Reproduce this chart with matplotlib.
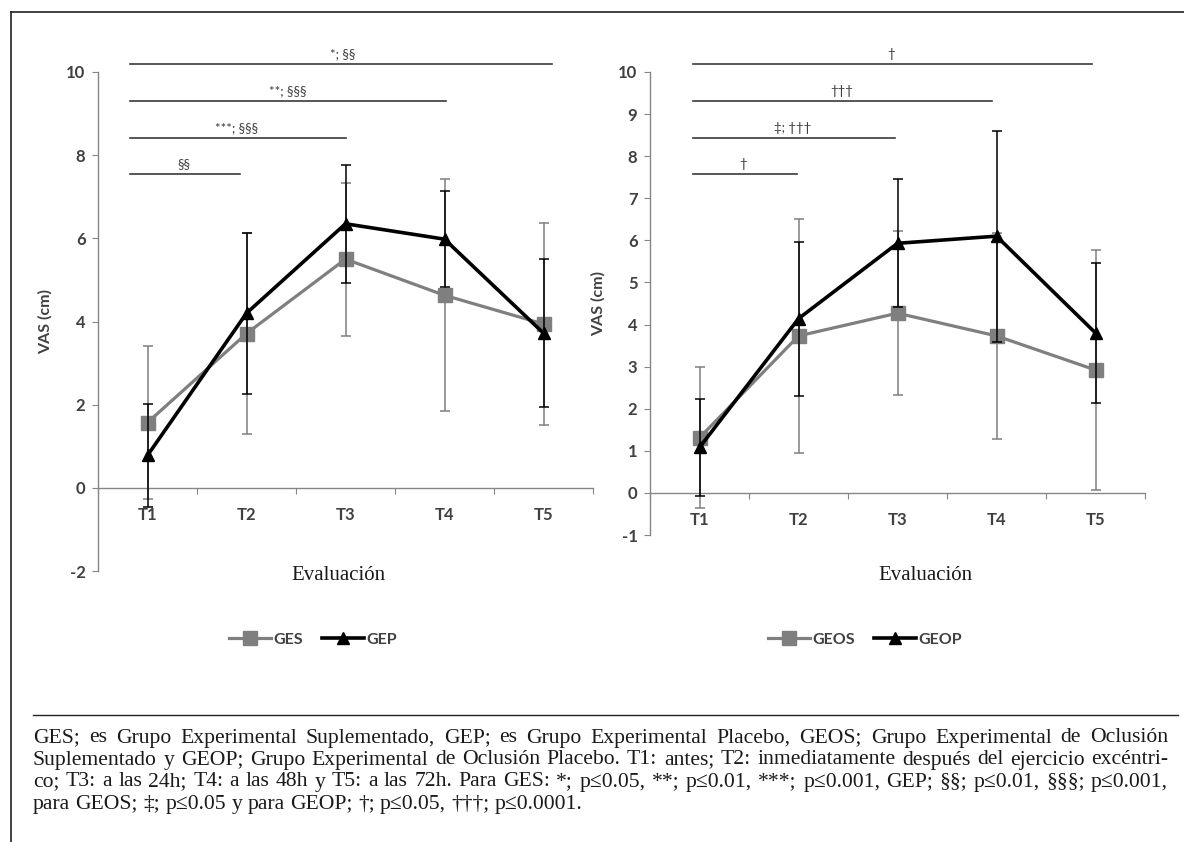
import numpy as np
import matplotlib.pyplot as plt
from matplotlib.lines import Line2D

# data
cats = ['T1', 'T2', 'T3', 'T4', 'T5']
ges = [1.57, 3.71, 5.50, 4.63, 3.94]
ges_err = [1.84, 2.41, 1.84, 2.79, 2.44]
gep = [0.78, 4.20, 6.35, 5.98, 3.72]
gep_err = [1.23, 1.94, 1.42, 1.15, 1.78]
geos = [1.31, 3.73, 4.27, 3.73, 2.92]
geos_err = [1.68, 2.78, 1.95, 2.45, 2.86]
geop = [1.08, 4.14, 5.93, 6.10, 3.80]
geop_err = [1.16, 1.83, 1.52, 2.51, 1.66]

# significance bars: level, end category position, label, label position
left_sig_y = [10.19, 9.30, 8.41, 7.55]
left_sig_end = [5.09, 4.02, 3.00, 1.93]
left_sig_lab = ['*; §§', '**; §§§', '***; §§§', '§§']
left_sig_lx = [2.97, 2.42, 1.90, 1.37]
right_sig_y = [10.19, 9.31, 8.43, 7.58]
right_sig_end = [4.96, 3.95, 2.97, 1.98]
right_sig_lab = ['†', '†††', '‡; †††', '†']
right_sig_lx = [2.94, 2.44, 1.94, 1.44]

caption = [
    "GES; es Grupo Experimental Suplementado, GEP; es Grupo Experimental Placebo, GEOS; Grupo Experimental de Oclusión",
    "Suplementado y GEOP; Grupo Experimental de Oclusión Placebo. T1: antes; T2: inmediatamente después del ejercicio excéntri-",
    "co; T3: a las 24h; T4: a las 48h y T5: a las 72h. Para GES: *; p≤0.05, **; p≤0.01, ***; p≤0.001, GEP; §§; p≤0.01, §§§; p≤0.001,",
    "para GEOS; ‡; p≤0.05 y para GEOP; †; p≤0.05, †††; p≤0.0001.",
]

W, H = 1184, 842
GRAY = '#7f7f7f'
AXC = '#868686'
TXT = '#404040'
SANS = ['Lato', 'DejaVu Sans']
SERIF = ['Liberation Serif', 'DejaVu Serif']

fig = plt.figure(figsize=(W / 100, H / 100), dpi=100)


def fx(px):
    return px / W


def fy(py):
    return 1 - py / H


def panel(rect, ylim, yticks, s1, e1, s2, e2, names, sig, leg_x, xlab_x, ylab_x):
    ax = fig.add_axes(rect)
    x = np.arange(1, 6)
    ax.errorbar(x, s1, yerr=e1, color=GRAY, lw=2.3, marker='s', ms=10,
                capsize=3.5, elinewidth=1.1, capthick=1.1, zorder=3)
    ax.errorbar(x, s2, yerr=e2, color='black', lw=2.6, marker='^', ms=9,
                capsize=3.5, elinewidth=1.1, capthick=1.1, zorder=4)
    ax.set_xlim(0.5, 5.5)
    ax.set_ylim(*ylim)
    for s in ['top', 'right']:
        ax.spines[s].set_visible(False)
    ax.spines['bottom'].set_position(('data', 0))
    for s in ['left', 'bottom']:
        ax.spines[s].set_color(AXC)
        ax.spines[s].set_linewidth(1.0)
    ax.set_yticks(yticks)
    ax.set_yticklabels([str(v) for v in yticks], family=SANS, weight='bold',
                       fontsize=12, color=TXT)
    ax.tick_params(axis='y', length=4, color=AXC, pad=5)
    ax.set_xticks(np.arange(0.5, 6.0, 1.0))
    ax.set_xticklabels([])
    ax.tick_params(axis='x', which='major', length=4, color=AXC)
    ax.set_xticks(x, minor=True)
    ax.set_xticklabels(cats, minor=True, family=SANS, weight='bold',
                       fontsize=12, color=TXT)
    ax.tick_params(axis='x', which='minor', length=0, pad=14)

    ys, ends, labs, lxs, start = sig
    for yv, xe, lab, lx in zip(ys, ends, labs, lxs):
        ax.plot([start, xe], [yv, yv], color='#3a3a3a', lw=1.2, clip_on=False)
        ax.text(lx, yv + 0.1, lab, ha='center', va='bottom', fontsize=9.5,
                color=TXT, family=SANS, clip_on=False)

    handles = [Line2D([], [], color=GRAY, lw=2.3, marker='s', ms=10),
               Line2D([], [], color='black', lw=2.6, marker='^', ms=9)]
    ax.legend(handles, names, loc='center', bbox_to_anchor=(fx(leg_x), fy(640)),
              bbox_transform=fig.transFigure, ncol=2, frameon=False,
              handlelength=2.6, columnspacing=1.2, handletextpad=0.15,
              prop={'family': SANS, 'weight': 'bold', 'size': 11.5},
              labelcolor=TXT)
    fig.text(fx(xlab_x), fy(576), 'Evaluación', ha='center', va='center',
             family=SERIF, fontsize=15, color='#1a1a1a')
    fig.text(fx(ylab_x), (rect[1] + rect[3] / 2), 'VAS (cm)', rotation=90,
             ha='center', va='center', family=SANS, weight='bold',
             fontsize=11.5, color=TXT)
    return ax


panel([fx(98), fy(571), fx(495), 499 / H], (-2, 10), list(range(10, -3, -2)),
      ges, ges_err, gep, gep_err, ['GES', 'GEP'],
      (left_sig_y, left_sig_end, left_sig_lab, left_sig_lx, 0.82),
      313, 338, 45)
panel([fx(650), fy(535), fx(495), 463 / H], (-1, 10), list(range(10, -2, -1)),
      geos, geos_err, geop, geop_err, ['GEOS', 'GEOP'],
      (right_sig_y, right_sig_end, right_sig_lab, right_sig_lx, 0.93),
      865, 925, 598)

# frame and rule
fig.add_artist(Line2D([fx(11), 1], [fy(12), fy(12)], color='#222222', lw=1.2))
fig.add_artist(Line2D([fx(11), fx(11)], [fy(12), 0], color='#222222', lw=1.2))
fig.add_artist(Line2D([fx(33), fx(1178)], [fy(715), fy(715)], color='#222222', lw=1.0))

# caption: size the font so the widest full line fits the column, then justify
renderer = fig.canvas.get_renderer()
x0, x1 = 33, 1168
widest = 0
for line in caption[:-1]:
    probe = fig.text(0, 0, line, family=SERIF, fontsize=10)
    widest = max(widest, probe.get_window_extent(renderer=renderer).width)
    probe.remove()
cap_fs = 10 * (x1 - x0) / widest * 0.985

line_y = [738, 760, 782, 804]
for i, (line, py) in enumerate(zip(caption, line_y)):
    words = line.split(' ')
    texts = [fig.text(0, fy(py), w, ha='left', va='center', family=SERIF,
                      fontsize=cap_fs, color='#1a1a1a') for w in words]
    widths = [t.get_window_extent(renderer=renderer).width for t in texts]
    if i < len(caption) - 1:
        gap = (x1 - x0 - sum(widths)) / (len(words) - 1)
    else:
        gap = cap_fs * 100 / 72 * 0.25
    xp = x0
    for t, w in zip(texts, widths):
        t.set_x(fx(xp))
        xp += w + gap

fig.savefig('out.png', dpi=100)
